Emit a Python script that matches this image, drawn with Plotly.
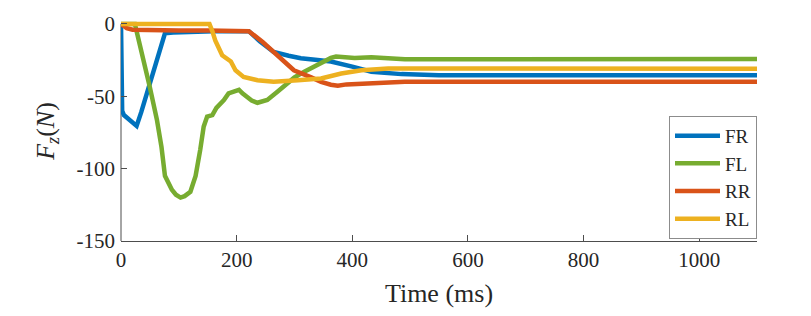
import plotly.graph_objects as go

# ---- data ----
FR_t = [0, 2, 5, 15, 27, 35, 45, 56, 65, 71, 76, 90, 120, 160, 200, 221, 240, 264, 290, 311, 340, 363, 400, 433, 485, 550, 700, 900, 1100]
FR_v = [0, -60, -63, -66, -70.5, -61, -48, -35, -23, -15, -6.5, -6, -5.5, -5, -5, -5, -12, -19.4, -22, -23.7, -25, -26, -29.5, -33, -34.7, -35.5, -35.5, -35.5, -35.5]

FL_t = [0, 24, 50, 62, 70, 76, 88, 95, 103, 110, 120, 129, 137, 143, 149, 158, 165, 172, 178, 186, 195, 204, 210, 216, 226, 236, 245, 253, 270, 288, 300, 317, 340, 363, 372, 390, 404, 433, 460, 491, 550, 700, 900, 1100]
FL_v = [0, 0, -44, -66, -85, -105, -114.6, -118, -120, -119, -116, -105, -87, -71, -64, -63, -58, -55, -52.6, -48, -47, -45.5, -48, -50, -53, -54.5, -53.5, -52.6, -47, -41, -37, -33, -28, -23.5, -22.5, -23, -23.5, -23, -23.5, -24.5, -24.5, -24.3, -24.3, -24.3]

RR_t = [0, 10, 20, 60, 100, 150, 200, 221, 245, 271, 299, 329, 346, 363, 375, 390, 430, 491, 600, 800, 1100]
RR_v = [0, -3, -4, -4.5, -4.5, -4.5, -5, -5, -12.5, -21.7, -32, -37, -40, -42, -42.8, -41.8, -41, -40, -40, -40, -40]

RL_t = [0, 153, 158, 163, 175, 183, 190, 198, 212, 236, 264, 306, 346, 381, 416, 462, 520, 700, 900, 1100]
RL_v = [0, 0, -5, -11.4, -21.7, -24, -26, -32, -36.6, -38.9, -40, -38.9, -37.7, -34.3, -32, -30.8, -30.8, -31, -31, -31]

series_names = ["FR", "FL", "RR", "RL"]
colors = ["#0072BD", "#77AC30", "#D95319", "#EDB120"]

x_ticks = [0, 200, 400, 600, 800, 1000]
y_ticks = [-150, -100, -50, 0]
y_tick_labels = ["-150", "-100", "-50", "0"]

FONT = "Liberation Serif, DejaVu Serif, serif"

fig = go.Figure()
for name, t, v, c in zip(series_names, [FR_t, FL_t, RR_t, RL_t], [FR_v, FL_v, RR_v, RL_v], colors):
    fig.add_trace(go.Scatter(x=t, y=v, mode="lines", name=name,
                             line=dict(color=c, width=4.5)))

axcol = "#4d4d4d"
# page body has an 8px margin, so the figure is offset by 8px
fig.update_layout(
    width=795, height=300,
    margin=dict(l=113, r=46, t=12.6, b=66.5),
    paper_bgcolor="white", plot_bgcolor="white",
    font=dict(family=FONT, size=21, color="#262626"),
    showlegend=True,
    legend=dict(x=1, xanchor="right", y=0.569, yanchor="top",
                bordercolor="#8c8c8c", borderwidth=1, bgcolor="white",
                font=dict(family=FONT, size=19, color="#262626"),
                itemwidth=45, tracegroupgap=0),
    xaxis=dict(range=[0, 1100], tickvals=x_ticks, ticks="inside", ticklen=6,
               tickcolor=axcol, showline=True, linecolor=axcol, linewidth=1,
               showgrid=False, zeroline=False, automargin=False,
               title=dict(text="Time (ms)", font=dict(family=FONT, size=26), standoff=15)),
    yaxis=dict(range=[-150, 2], tickvals=y_ticks, ticktext=y_tick_labels,
               ticks="inside", ticklen=6, tickcolor=axcol, showline=False,
               showgrid=False, zeroline=False, automargin=False,
               ticklabelstandoff=5,
               title=dict(text="<i>F</i><sub><i>z</i></sub>(<i>N</i>)",
                          font=dict(family=FONT, size=26), standoff=14)),
    shapes=[dict(type="line", xref="paper", yref="y", x0=0, x1=0, y0=-150, y1=0,
                 line=dict(color=axcol, width=1), layer="below")],
)

fig.write_html("out.html")
